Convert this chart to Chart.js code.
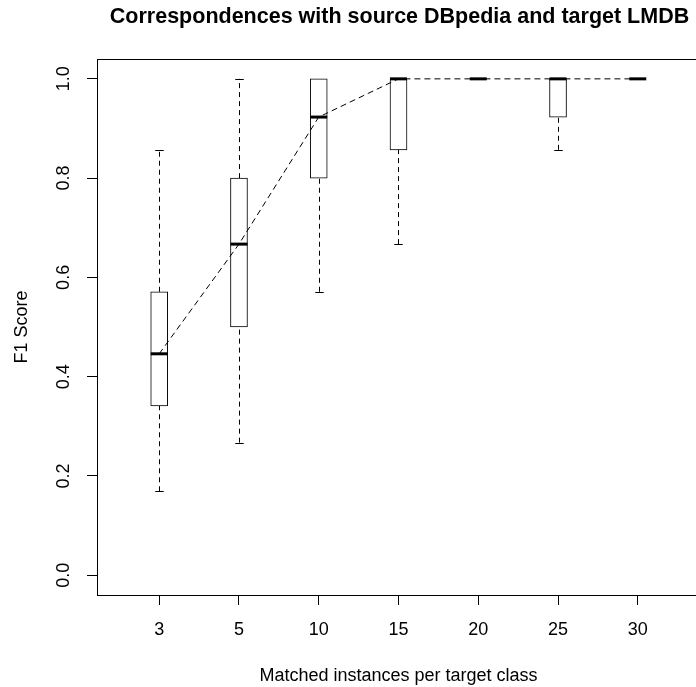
<!DOCTYPE html>
<html>
<head>
<meta charset="utf-8">
<script src="https://cdn.jsdelivr.net/npm/chart.js@4"></script>
<style>
  body { margin: 0; background: #fff; }
  #wrap { width: 696px; height: 687px; overflow: hidden; }
</style>
</head>
<body>
<div id="wrap"><canvas id="boxChart" width="740" height="687"></canvas></div>
<script>
const categories = ['3', '5', '10', '15', '20', '25', '30'];
const whiskerLow = [0.169, 0.267, 0.571, 0.667, 1.0, 0.857, 1.0];
const lowerQuartile = [0.341, 0.5, 0.8, 0.857, 1.0, 0.923, 1.0];
const medians = [0.446, 0.667, 0.923, 1.0, 1.0, 1.0, 1.0];
const upperQuartile = [0.571, 0.8, 1.0, 1.0, 1.0, 1.0, 1.0];
const whiskerHigh = [0.857, 1.0, 1.0, 1.0, 1.0, 1.0, 1.0];
const yTicks = [0, 0.2, 0.4, 0.6, 0.8, 1.0];

const FONT = "'Liberation Sans', Arial, Helvetica, sans-serif";
const BOX_W = 17;

// whiskers, staples, medians, frame and the rotated texts
const boxExtras = {
    id: 'boxExtras',
    beforeDatasetsDraw(chart) {
        const ctx = chart.ctx;
        const x = chart.scales.x, y = chart.scales.y;
        ctx.save();
        ctx.strokeStyle = '#000';
        ctx.lineWidth = 1;
        categories.forEach((c, i) => {
            const px = Math.round(x.getPixelForValue(i + 1)) + 0.5;
            const segs = [[whiskerLow[i], lowerQuartile[i]], [upperQuartile[i], whiskerHigh[i]]];
            segs.forEach(([a, b]) => {
                if (a === b) return;
                ctx.setLineDash([5, 4]);
                ctx.beginPath();
                ctx.moveTo(px, y.getPixelForValue(a));
                ctx.lineTo(px, y.getPixelForValue(b));
                ctx.stroke();
            });
            ctx.setLineDash([]);
            [whiskerLow[i], whiskerHigh[i]].forEach(v => {
                const py = Math.round(y.getPixelForValue(v)) + 0.5;
                ctx.beginPath();
                ctx.moveTo(px - BOX_W / 4, py);
                ctx.lineTo(px + BOX_W / 4, py);
                ctx.stroke();
            });
        });
        ctx.restore();
    },
    afterDatasetsDraw(chart) {
        const ctx = chart.ctx;
        const x = chart.scales.x, y = chart.scales.y;
        const area = chart.chartArea;
        ctx.save();
        ctx.strokeStyle = '#000';
        ctx.lineWidth = 3;
        medians.forEach((m, i) => {
            const px = x.getPixelForValue(i + 1);
            const py = y.getPixelForValue(m);
            ctx.beginPath();
            ctx.moveTo(px - BOX_W / 2, py);
            ctx.lineTo(px + BOX_W / 2, py);
            ctx.stroke();
        });

        // plot frame
        ctx.lineWidth = 1;
        ctx.strokeRect(Math.round(area.left) + 0.5, Math.round(area.top) + 0.5,
            Math.round(area.right - area.left), Math.round(area.bottom - area.top));

        ctx.fillStyle = '#000';
        ctx.font = '18px ' + FONT;
        ctx.textAlign = 'center';
        ctx.textBaseline = 'middle';
        yTicks.forEach(v => {
            ctx.save();
            ctx.translate(64, y.getPixelForValue(v));
            ctx.rotate(-Math.PI / 2);
            ctx.fillText(v.toFixed(1), 0, 0);
            ctx.restore();
        });

        ctx.save();
        ctx.translate(22, (area.top + area.bottom) / 2);
        ctx.rotate(-Math.PI / 2);
        ctx.fillText('F1 Score', 0, 0);
        ctx.restore();

        ctx.fillText('Matched instances per target class', (area.left + area.right) / 2, 676);

        ctx.font = 'bold 21.5px ' + FONT;
        ctx.textBaseline = 'alphabetic';
        ctx.fillText('Correspondences with source DBpedia and target LMDB', (area.left + area.right) / 2 + 1, 23);
        ctx.restore();
    }
};

new Chart(document.getElementById('boxChart'), {
    type: 'bar',
    data: {
        datasets: [{
            type: 'line',
            data: medians.map((m, i) => ({ x: i + 1, y: m })),
            borderColor: '#000',
            borderWidth: 1,
            borderDash: [6, 4],
            pointRadius: 0,
            tension: 0,
            fill: false
        }, {
            type: 'bar',
            data: lowerQuartile.map((q, i) => ({ x: i + 1, y: [q, upperQuartile[i]] })),
            backgroundColor: '#fff',
            borderColor: '#000',
            borderWidth: 1,
            borderSkipped: false,
            barThickness: BOX_W
        }]
    },
    options: {
        responsive: false,
        devicePixelRatio: 1,
        animation: false,
        layout: { padding: { left: 0, top: 59, right: 40, bottom: 0 } },
        plugins: {
            legend: { display: false },
            tooltip: { enabled: false },
            title: { display: false }
        },
        scales: {
            x: {
                type: 'linear',
                min: 0.22,
                max: 7.78,
                offset: false,
                afterBuildTicks: scale => { scale.ticks = categories.map((c, i) => ({ value: i + 1 })); },
                afterFit: scale => { scale.height = 92; },
                grid: { offset: false, drawOnChartArea: false, drawTicks: true, tickLength: 10, color: '#000' },
                border: { display: true, color: '#000' },
                ticks: {
                    autoSkip: false,
                    maxRotation: 0,
                    padding: 14,
                    color: '#000',
                    font: { family: FONT, size: 18 },
                    callback: (v) => categories[v - 1]
                }
            },
            y: {
                type: 'linear',
                min: -0.04,
                max: 1.04,
                afterBuildTicks: scale => { scale.ticks = yTicks.map(v => ({ value: v })); },
                afterFit: scale => { scale.width = 97; },
                grid: { drawOnChartArea: false, drawTicks: true, tickLength: 10, color: '#000' },
                border: { display: true, color: '#000' },
                ticks: { display: false }
            }
        }
    },
    plugins: [boxExtras]
});
</script>
</body>
</html>
